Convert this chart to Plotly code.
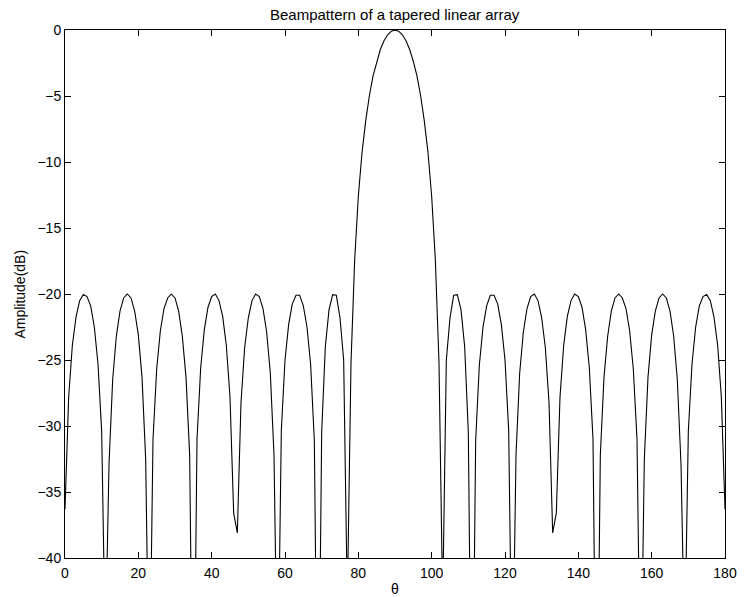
import plotly.graph_objects as go

theta = list(range(0, 181))

amplitude_db = [
    -36.3, -27.8, -23.9, -21.75, -20.5, -20.03, -20.2, -20.9, -22.5, -25.3,
    -30.4, -47.0, -32.9, -26.5, -23.2, -21.3, -20.3, -20.0, -20.3, -21.3,
    -23.1, -26.3, -32.5, -51.7, -31.0, -25.7, -22.8, -21.1, -20.3, -20.0,
    -20.3, -21.3, -23.2, -26.3, -32.2, -57.4, -31.0, -25.6, -22.7, -21.0,
    -20.2, -20.0, -20.5, -21.7, -23.9, -27.8, -36.6, -38.1, -28.2, -24.05,
    -21.8, -20.5, -20.0, -20.2, -21.1, -22.9, -26.0, -32.2, -51.0, -30.3,
    -25.0, -22.3, -20.75, -20.1, -20.1, -20.9, -22.5, -25.4, -31.1, -58.0,
    -30.5, -24.0, -21.2, -20.05, -20.1, -21.8, -25.0, -43.5, -25.2, -17.4,
    -12.6, -9.3, -6.9, -5.0, -3.5, -2.37, -1.48, -0.82, -0.36, -0.09,
    0.0,
    -0.09, -0.36, -0.82, -1.48, -2.37, -3.5, -5.0, -6.9, -9.3, -12.6,
    -17.4, -25.2, -43.5, -25.0, -21.8, -20.1, -20.05, -21.2, -24.0, -30.5,
    -58.0, -31.1, -25.4, -22.5, -20.9, -20.1, -20.1, -20.75, -22.3, -25.0,
    -30.3, -51.0, -32.2, -26.0, -22.9, -21.1, -20.2, -20.0, -20.5, -21.8,
    -24.05, -28.2, -38.1, -36.6, -27.8, -23.9, -21.7, -20.5, -20.0, -20.2,
    -21.0, -22.7, -25.6, -31.0, -57.4, -32.2, -26.3, -23.2, -21.3, -20.3,
    -20.0, -20.3, -21.1, -22.8, -25.7, -31.0, -51.7, -32.5, -26.3, -23.1,
    -21.3, -20.3, -20.0, -20.3, -21.3, -23.2, -26.5, -32.9, -47.0, -30.4,
    -25.3, -22.5, -20.9, -20.2, -20.03, -20.5, -21.75, -23.9, -27.8, -36.3,
]

x_ticks = [0, 20, 40, 60, 80, 100, 120, 140, 160, 180]
y_ticks = [-40, -35, -30, -25, -20, -15, -10, -5, 0]

title_text = "Beampattern of a tapered linear array"
x_label = "θ"
y_label = "Amplitude(dB)"

FONT = "Liberation Sans, Arial, Helvetica, sans-serif"

# The page keeps the browser's 8px body margin, so the figure is 741x589 and
# its margins are chosen so the plot area lands near x 65..734, y 30..558.
PLOT_H = 528
PLOT_W = 669

fig = go.Figure()
fig.add_trace(go.Scatter(
    x=theta, y=amplitude_db, mode="lines",
    line=dict(color="black", width=1.1),
    showlegend=False, hoverinfo="skip",
))

axis_common = dict(
    showgrid=False, zeroline=False,
    showline=True, linecolor="black", linewidth=1, mirror="ticks",
    ticks="inside", ticklen=6, tickwidth=1, tickcolor="black",
    tickfont=dict(family=FONT, size=14, color="black"),
)

fig.update_xaxes(range=[0, 180], tickmode="array", tickvals=x_ticks,
                 ticktext=[str(v) for v in x_ticks], ticklabelstandoff=2,
                 ticklabeloverflow="allow", **axis_common)
fig.update_yaxes(range=[-40, 0], tickmode="array", tickvals=y_ticks,
                 ticktext=[("\u2212" + str(-v)) if v < 0 else str(v) for v in y_ticks],
                 **axis_common)

fig.update_layout(
    width=741, height=589, autosize=False,
    margin=dict(l=57, r=15, t=22, b=39),
    paper_bgcolor="white", plot_bgcolor="white",
    font=dict(family=FONT, size=14, color="black"),
    annotations=[
        dict(text=title_text, x=0.5, y=1 + (30 - 14) / PLOT_H, xref="paper", yref="paper",
             xanchor="center", yanchor="middle", showarrow=False,
             font=dict(family=FONT, size=15, color="black")),
        dict(text=x_label, x=0.5, y=(558 - 589) / PLOT_H, xref="paper", yref="paper",
             xanchor="center", yanchor="middle", showarrow=False,
             font=dict(family=FONT, size=14, color="black")),
        dict(text=y_label, x=(19 - 65) / PLOT_W, y=0.5, xref="paper", yref="paper",
             xanchor="center", yanchor="middle", textangle=-90, showarrow=False,
             font=dict(family=FONT, size=14, color="black")),
    ],
)

fig.write_html("out.html", config={"displayModeBar": False, "responsive": False})
